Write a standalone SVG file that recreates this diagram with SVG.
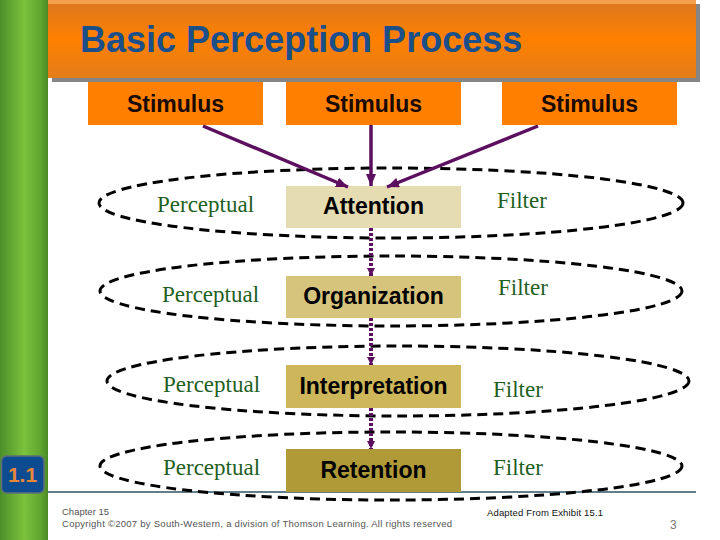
<svg xmlns="http://www.w3.org/2000/svg" width="720" height="540" viewBox="0 0 720 540">
  <defs>
    <linearGradient id="greenBar" x1="0" y1="0" x2="1" y2="0">
      <stop offset="0" stop-color="#4C8F2A"/>
      <stop offset="0.5" stop-color="#7CC23C"/>
      <stop offset="0.85" stop-color="#5FA530"/>
      <stop offset="1" stop-color="#4A8A26"/>
    </linearGradient>
    <linearGradient id="titleFill" x1="0" y1="0" x2="0" y2="1">
      <stop offset="0" stop-color="#DA7822"/>
      <stop offset="0.5" stop-color="#FF8000"/>
      <stop offset="1" stop-color="#E37D1A"/>
    </linearGradient>
    <marker id="arrow" viewBox="0 0 12 10" refX="12" refY="5" markerWidth="12" markerHeight="10" markerUnits="userSpaceOnUse" orient="auto">
      <path d="M0,0 L12,5 L0,10 Z" fill="#5B0F5E"/>
    </marker>
    <marker id="arrowSmall" viewBox="0 0 8 8" refX="8" refY="4" markerWidth="8" markerHeight="8" markerUnits="userSpaceOnUse" orient="auto">
      <path d="M0,0 L8,4 L0,8 Z" fill="#5B0F5E"/>
    </marker>
  </defs>
  <style>
    .stim { fill: #FF8000; }
    .stimText { font-family: "Liberation Sans", Arial, sans-serif; font-weight: bold; font-size: 23px; fill: #1A0A00; text-anchor: middle; }
    .boxText { font-family: "Liberation Sans", Arial, sans-serif; font-weight: bold; font-size: 23px; fill: #000000; text-anchor: middle; }
    .green { font-family: "Liberation Serif", "Times New Roman", serif; font-size: 23px; fill: #1F5F1F; }
    .ell { fill: none; stroke: #000000; stroke-width: 3; stroke-dasharray: 10 6; }
    .solid { stroke: #5B0F5E; stroke-width: 3.5; fill: none; marker-end: url(#arrow); }
    .dotted { stroke: #5B0F5E; stroke-width: 4; stroke-dasharray: 3 2; fill: none; marker-end: url(#arrowSmall); }
    .foot { font-family: "Liberation Sans", Arial, sans-serif; font-size: 9.5px; fill: #555555; }
  </style>

  <rect x="0" y="0" width="720" height="540" fill="#FFFFFF"/>

  <!-- left green bar -->
  <rect x="0" y="0" width="48" height="540" fill="url(#greenBar)"/>

  <!-- title banner -->
  <g id="title">
    <rect x="52" y="4" width="648" height="78" fill="#858585"/>
    <rect x="48" y="0" width="648" height="78" fill="url(#titleFill)"/>
    <rect x="48" y="0" width="648" height="4" fill="#F5A04A"/>
    <text x="80" y="52" font-family="'Liberation Sans', Arial, sans-serif" font-weight="bold" font-size="36" fill="#1B4F8A">Basic Perception Process</text>
  </g>

  <!-- footer line -->
  <line x1="48" y1="492" x2="696" y2="492" stroke="#2E5366" stroke-width="1.5"/>

  <!-- dashed ellipses -->
  <g id="ellipses">
    <ellipse id="ell-1" class="ell" cx="391" cy="203" rx="292" ry="35"/>
    <ellipse id="ell-2" class="ell" cx="391" cy="291" rx="291" ry="35"/>
    <ellipse id="ell-3" class="ell" cx="398" cy="381" rx="291" ry="35"/>
    <ellipse id="ell-4" class="ell" cx="391" cy="466" rx="291" ry="34"/>
  </g>

  <!-- stimulus nodes -->
  <g id="stimulus-1">
    <rect class="stim" x="88" y="82" width="175" height="43"/>
    <text class="stimText" x="175.5" y="112">Stimulus</text>
  </g>
  <g id="stimulus-2">
    <rect class="stim" x="286" y="82" width="175" height="43"/>
    <text class="stimText" x="373.5" y="112">Stimulus</text>
  </g>
  <g id="stimulus-3">
    <rect class="stim" x="502" y="82" width="175" height="43"/>
    <text class="stimText" x="589.5" y="112">Stimulus</text>
  </g>

  <!-- process nodes -->
  <g id="attention">
    <rect x="286" y="186" width="175" height="42" fill="#E6DCB2"/>
    <text class="boxText" x="373.5" y="214">Attention</text>
  </g>
  <g id="organization">
    <rect x="286" y="276" width="175" height="42" fill="#D7C47C"/>
    <text class="boxText" x="373.5" y="304">Organization</text>
  </g>
  <g id="interpretation">
    <rect x="286" y="365" width="175" height="43" fill="#CEB65A"/>
    <text class="boxText" x="373.5" y="394">Interpretation</text>
  </g>
  <g id="retention">
    <rect x="286" y="449" width="175" height="43" fill="#B09A38"/>
    <text class="boxText" x="373.5" y="478">Retention</text>
  </g>

  <!-- side labels -->
  <g id="labels">
    <text class="green" x="157" y="212">Perceptual</text>
    <text class="green" x="497" y="208">Filter</text>
    <text class="green" x="162" y="302">Perceptual</text>
    <text class="green" x="498" y="295">Filter</text>
    <text class="green" x="163" y="392">Perceptual</text>
    <text class="green" x="493" y="397">Filter</text>
    <text class="green" x="163" y="475">Perceptual</text>
    <text class="green" x="493" y="475">Filter</text>
  </g>

  <!-- connectors -->
  <g id="connectors">
    <line class="solid" x1="203" y1="126" x2="348" y2="187"/>
    <line class="solid" x1="371" y1="125" x2="371" y2="186"/>
    <line class="solid" x1="538" y1="126" x2="387" y2="187"/>
    <line class="dotted" x1="371" y1="228" x2="371" y2="276"/>
    <line class="dotted" x1="371" y1="318" x2="371" y2="365"/>
    <line class="dotted" x1="371" y1="408" x2="371" y2="449"/>
  </g>

  <!-- badge -->
  <g id="badge">
    <rect x="1.5" y="456" width="42.5" height="37" rx="5" ry="5" fill="#0E4C92" stroke="#5E6E7C" stroke-width="1.5"/>
    <text x="22.5" y="482" font-family="'Liberation Sans', Arial, sans-serif" font-weight="bold" font-size="21" fill="#E8873A" text-anchor="middle">1.1</text>
  </g>

  <!-- footer -->
  <g id="footer">
    <text class="foot" x="62" y="515">Chapter 15</text>
    <text class="foot" x="62" y="527" textLength="390" lengthAdjust="spacing">Copyright ©2007 by South-Western, a division of Thomson Learning.  All rights reserved</text>
    <text class="foot" x="487" y="516" fill="#111111" style="fill:#111111" textLength="116" lengthAdjust="spacing">Adapted From Exhibit 15.1</text>
    <text x="670" y="529" font-family="'Liberation Sans', Arial, sans-serif" font-size="12" fill="#777777">3</text>
  </g>
</svg>
